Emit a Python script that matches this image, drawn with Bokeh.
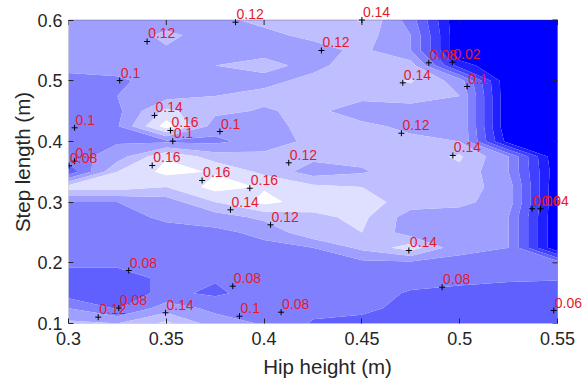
import numpy as np
from bokeh.plotting import figure
from bokeh.models import (ColumnDataSource, LabelSet, FixedTicker, BoxAnnotation,
                          CustomJSTickFormatter, Range1d)
from bokeh.core.properties import value
from bokeh.embed import file_html
from bokeh.resources import INLINE

# Grid of the surface
hip_height = [0.300, 0.325, 0.350, 0.375, 0.400, 0.425, 0.450, 0.475, 0.500, 0.525, 0.550]
step_length = [0.100, 0.125, 0.150, 0.175, 0.200, 0.225, 0.250, 0.275, 0.300, 0.325,
               0.350, 0.375, 0.400, 0.425, 0.450, 0.475, 0.500, 0.525, 0.550, 0.575, 0.600]

# Surface values, one row per step length, listed from 0.6 m down to 0.1 m
rows_top_down = [
    [0.110, 0.110, 0.110, 0.115, 0.125, 0.125, 0.142, 0.090, 0.000, 0.000, 0.000],  # 0.600
    [0.110, 0.110, 0.124, 0.112, 0.115, 0.125, 0.130, 0.100, 0.000, 0.000, 0.000],  # 0.575
    [0.108, 0.110, 0.118, 0.115, 0.115, 0.112, 0.125, 0.100, 0.000, 0.000, 0.000],  # 0.550
    [0.105, 0.105, 0.110, 0.120, 0.125, 0.115, 0.130, 0.130, 0.030, 0.000, 0.000],  # 0.525
    [0.095, 0.098, 0.105, 0.112, 0.115, 0.125, 0.130, 0.142, 0.110, 0.000, 0.000],  # 0.500
    [0.098, 0.100, 0.112, 0.120, 0.125, 0.125, 0.125, 0.130, 0.120, 0.000, 0.000],  # 0.475
    [0.090, 0.095, 0.145, 0.125, 0.118, 0.125, 0.110, 0.110, 0.120, 0.000, 0.000],  # 0.450
    [0.095, 0.098, 0.170, 0.110, 0.115, 0.125, 0.125, 0.115, 0.120, 0.000, 0.000],  # 0.425
    [0.092, 0.098, 0.095, 0.095, 0.110, 0.125, 0.125, 0.125, 0.120, 0.010, 0.000],  # 0.400
    [0.090, 0.110, 0.158, 0.130, 0.125, 0.125, 0.125, 0.130, 0.143, 0.100, 0.000],  # 0.375
    [0.065, 0.140, 0.166, 0.158, 0.135, 0.110, 0.118, 0.130, 0.135, 0.100, 0.005],  # 0.350
    [0.150, 0.150, 0.140, 0.168, 0.158, 0.145, 0.140, 0.130, 0.130, 0.110, 0.000],  # 0.325
    [0.100, 0.100, 0.110, 0.140, 0.166, 0.150, 0.150, 0.130, 0.125, 0.110, 0.000],  # 0.300
    [0.090, 0.090, 0.105, 0.110, 0.125, 0.135, 0.145, 0.110, 0.110, 0.100, 0.000],  # 0.275
    [0.090, 0.090, 0.090, 0.095, 0.105, 0.135, 0.140, 0.110, 0.110, 0.100, 0.000],  # 0.250
    [0.090, 0.090, 0.090, 0.090, 0.095, 0.100, 0.125, 0.150, 0.105, 0.100, 0.000],  # 0.225
    [0.085, 0.085, 0.090, 0.090, 0.090, 0.092, 0.095, 0.095, 0.095, 0.095, 0.090],  # 0.200
    [0.070, 0.070, 0.085, 0.082, 0.090, 0.090, 0.090, 0.088, 0.085, 0.083, 0.082],  # 0.175
    [0.070, 0.070, 0.085, 0.076, 0.090, 0.090, 0.088, 0.078, 0.075, 0.072, 0.070],  # 0.150
    [0.100, 0.078, 0.110, 0.095, 0.090, 0.085, 0.083, 0.076, 0.073, 0.068, 0.060],  # 0.125
    [0.125, 0.120, 0.145, 0.110, 0.098, 0.078, 0.076, 0.075, 0.072, 0.070, 0.065],  # 0.100
]
surface = np.array(rows_top_down[::-1])

# Filled bands: below 0.02 up to above 0.16, blue to white
band_edges = [-0.01, 0.02, 0.04, 0.06, 0.08, 0.10, 0.12, 0.14, 0.16, 0.20]
band_colors = ["#0000ff", "#2020ff", "#4040ff", "#6060ff", "#8080ff",
               "#9f9fff", "#bfbfff", "#dfdfff", "#ffffff"]

# Contour labels: position on the line and the level it marks
label_x = [0.3854, 0.4500, 0.3402, 0.3262, 0.3440, 0.3031, 0.3521, 0.3533, 0.3774,
           0.3031, 0.3003, 0.3428, 0.3683, 0.3927, 0.4126, 0.4293, 0.4842, 0.4962,
           0.4709, 0.5038, 0.4702, 0.4965, 0.3828, 0.4033, 0.3308, 0.3840, 0.3152,
           0.3257, 0.3496, 0.3874, 0.4087, 0.4740, 0.4910, 0.5481, 0.5370, 0.5413]
label_y = [0.5964, 0.6000, 0.5646, 0.5003, 0.4427, 0.4224, 0.4180, 0.4003, 0.4163,
           0.3674, 0.3600, 0.3603, 0.3356, 0.3229, 0.3647, 0.5498, 0.5295, 0.5305,
           0.4965, 0.4904, 0.4135, 0.3768, 0.2873, 0.2626, 0.1873, 0.1615, 0.1104,
           0.1253, 0.1176, 0.1120, 0.1186, 0.2203, 0.1598, 0.1214, 0.2890, 0.2890]
label_level = [0.12, 0.14, 0.12, 0.10, 0.14, 0.10, 0.16, 0.10, 0.10,
               0.10, 0.08, 0.16, 0.16, 0.16, 0.12, 0.12, 0.08, 0.02,
               0.14, 0.10, 0.12, 0.14, 0.14, 0.12, 0.08, 0.08, 0.12,
               0.08, 0.14, 0.10, 0.08, 0.14, 0.08, 0.06, 0.06, 0.04]

x_ticks = [0.30, 0.35, 0.40, 0.45, 0.50, 0.55]
y_ticks = [0.1, 0.2, 0.3, 0.4, 0.5, 0.6]
x_lim = (0.30, 0.55)
y_lim = (0.10, 0.60)

FONT = "Liberation Sans"
AXIS_COLOR = "#262626"
W, H = 586, 383

# Layout in pixels: axes box from x=68..557 and y=19.5..323 (top-down).
# The drawing frame is stretched to the page's top and right edges so that
# contour labels near the box edge are not cut off; the box itself is drawn
# as an annotation.
BOX_LEFT, BOX_RIGHT, BOX_TOP, BOX_BOTTOM = 68, 557, 19.5, 323
px_x = (x_lim[1] - x_lim[0]) / (BOX_RIGHT - BOX_LEFT)
px_y = (y_lim[1] - y_lim[0]) / (BOX_BOTTOM - BOX_TOP)
x_hi = x_lim[1] + (W - BOX_RIGHT) * px_x
y_hi = y_lim[1] + BOX_TOP * px_y
TICK_LEN = 5

p = figure(width=W, height=H, output_backend="svg", toolbar_location=None,
           x_range=Range1d(x_lim[0], x_hi), y_range=Range1d(y_lim[0], y_hi),
           min_border_left=BOX_LEFT, min_border_right=0, min_border_top=0,
           min_border_bottom=H - BOX_BOTTOM, background_fill_color="white",
           border_fill_color="white", outline_line_color=None)
p.grid.visible = False

p.contour(hip_height, step_length, surface, band_edges,
          fill_color=band_colors, line_color=None)

# Axes box and the inward ticks on its top and right sides
p.add_layout(BoxAnnotation(left=x_lim[0], right=x_lim[1], bottom=y_lim[0], top=y_lim[1],
                           fill_alpha=0, line_color=AXIS_COLOR, line_width=1))
p.segment(x0=x_ticks, y0=[y_lim[1]] * len(x_ticks),
          x1=x_ticks, y1=[y_lim[1] - TICK_LEN * px_y] * len(x_ticks),
          line_color=AXIS_COLOR, line_width=1)
p.segment(x0=[x_lim[1]] * len(y_ticks), y0=y_ticks,
          x1=[x_lim[1] - TICK_LEN * px_x] * len(y_ticks), y1=y_ticks,
          line_color=AXIS_COLOR, line_width=1)

src = ColumnDataSource(dict(x=label_x, y=label_y,
                            text=[f"{v:g}" for v in label_level]))
p.scatter("x", "y", source=src, marker="cross", size=6,
          line_color="black", line_width=1)
p.add_layout(LabelSet(x="x", y="y", text="text", source=src,
                      x_offset=1, y_offset=3,
                      text_font=value(FONT), text_font_size="14px",
                      text_color="#e6192b", text_baseline="alphabetic"))

fmt = CustomJSTickFormatter(code="return String(Math.round(tick * 100) / 100);")

for ax, ticks in ((p.xaxis[0], x_ticks), (p.yaxis[0], y_ticks)):
    ax.ticker = FixedTicker(ticks=ticks)
    ax.formatter = fmt
    ax.axis_line_color = None
    ax.major_tick_in = TICK_LEN
    ax.major_tick_out = 0
    ax.major_tick_line_color = AXIS_COLOR
    ax.minor_tick_line_color = None
    ax.major_label_text_font = FONT
    ax.major_label_text_font_size = "18px"
    ax.major_label_text_color = AXIS_COLOR
    ax.axis_label_text_font = FONT
    ax.axis_label_text_font_size = "20.5px"
    ax.axis_label_text_font_style = "normal"
    ax.axis_label_text_color = AXIS_COLOR

p.xaxis[0].axis_label = "Hip height (m)"
p.xaxis[0].major_label_standoff = 8
p.xaxis[0].axis_label_standoff = 7

p.yaxis[0].axis_label = "Step length (m)"
p.yaxis[0].major_label_standoff = 6
p.yaxis[0].axis_label_standoff = 0

open("out.html", "w").write(file_html(p, INLINE))
